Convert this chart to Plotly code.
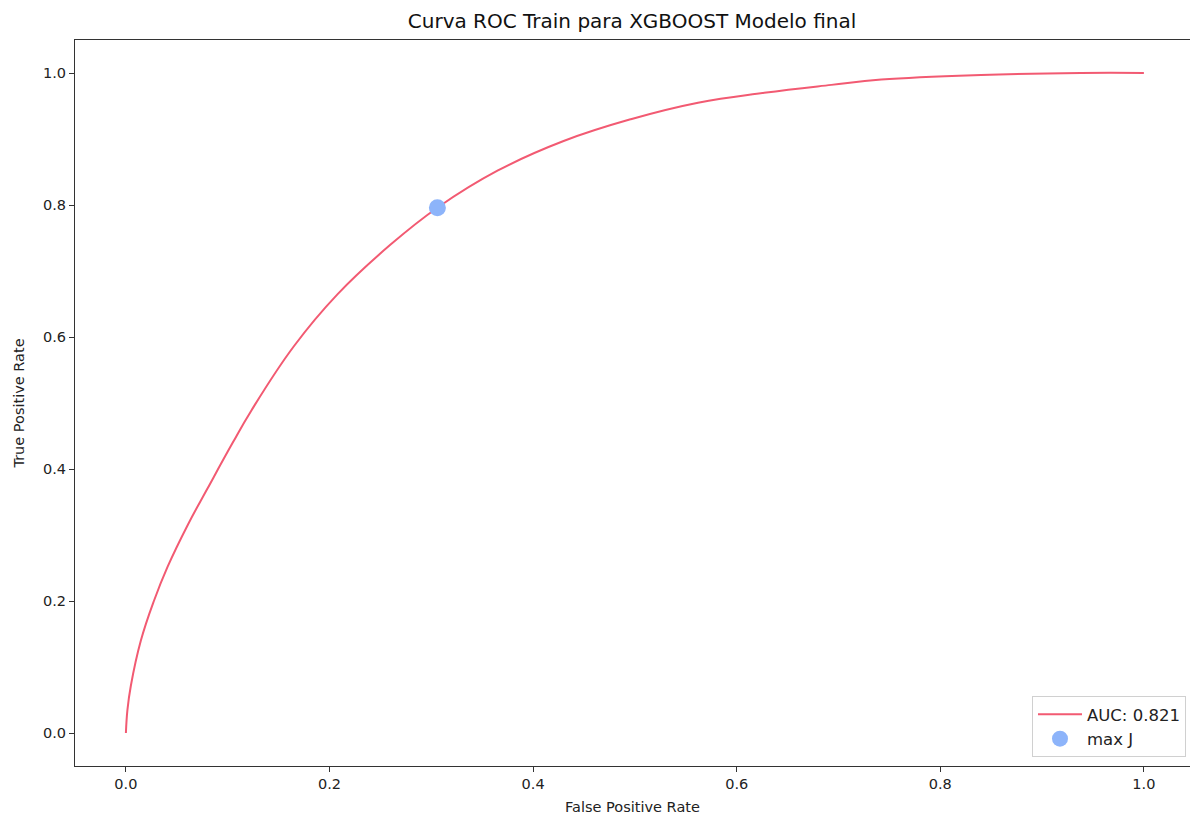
import plotly.graph_objects as go

# ROC curve points
fpr = [0.0, 0.0015, 0.0049, 0.0147, 0.0275, 0.041, 0.061, 0.080, 0.105, 0.123, 0.165, 0.208,
       0.260, 0.307, 0.365, 0.430, 0.496, 0.562, 0.627, 0.693, 0.742, 0.840, 0.938, 1.0]
tpr = [0.0, 0.035, 0.072, 0.140, 0.200, 0.252, 0.316, 0.370, 0.440, 0.488, 0.586, 0.665,
       0.740, 0.797, 0.852, 0.897, 0.930, 0.955, 0.970, 0.982, 0.990, 0.997, 1.0, 1.0]

# Best threshold (max Youden J)
best_fpr = [0.306]
best_tpr = [0.796]

auc_label = "AUC: 0.821"
title = "Curva ROC Train para XGBOOST Modelo final"

fig = go.Figure()
fig.add_trace(go.Scatter(x=fpr, y=tpr, mode="lines", name=auc_label,
                         line=dict(color="#f25a72", width=2, shape="spline", smoothing=1.2)))
fig.add_trace(go.Scatter(x=best_fpr, y=best_tpr, mode="markers", name="max J",
                         marker=dict(color="#8db4fa", size=17)))

font = "DejaVu Sans"
fig.update_layout(
    width=1190, height=817,
    margin=dict(l=75, r=0, t=40, b=51),
    paper_bgcolor="white", plot_bgcolor="white",
    font=dict(family=font, size=14.5, color="#222"),
    title=dict(text=title, x=(408 + 856) / 2 / 1190, xanchor="center",
               y=1 - 21 / 817, yanchor="middle", font=dict(size=20, color="#111")),
    showlegend=True,
    legend=dict(x=0.9964, xanchor="right", y=0.0124, yanchor="bottom",
                bgcolor="rgba(255,255,255,0.8)", bordercolor="#d0d0d0", borderwidth=1,
                font=dict(size=16.5, color="#222"), tracegroupgap=0, itemwidth=44),
)
fig.update_xaxes(
    range=[-0.05, 1.0453], tickvals=[0, 0.2, 0.4, 0.6, 0.8, 1.0],
    ticktext=["0.0", "0.2", "0.4", "0.6", "0.8", "1.0"],
    showgrid=False, zeroline=False, showline=True, mirror=True, linecolor="#333", linewidth=1,
    ticks="outside", ticklen=5, tickcolor="#333",
    title=dict(text="False Positive Rate", standoff=10, font=dict(size=14.5)),
)
fig.update_yaxes(
    range=[-0.05, 1.05], tickvals=[0, 0.2, 0.4, 0.6, 0.8, 1.0],
    ticktext=["0.0", "0.2", "0.4", "0.6", "0.8", "1.0"],
    showgrid=False, zeroline=False, showline=True, mirror=False, linecolor="#333", linewidth=1,
    ticks="outside", ticklen=5, tickcolor="#333",
    title=dict(text="True Positive Rate", standoff=14, font=dict(size=14.5)),
)

fig.write_html("out.html")
